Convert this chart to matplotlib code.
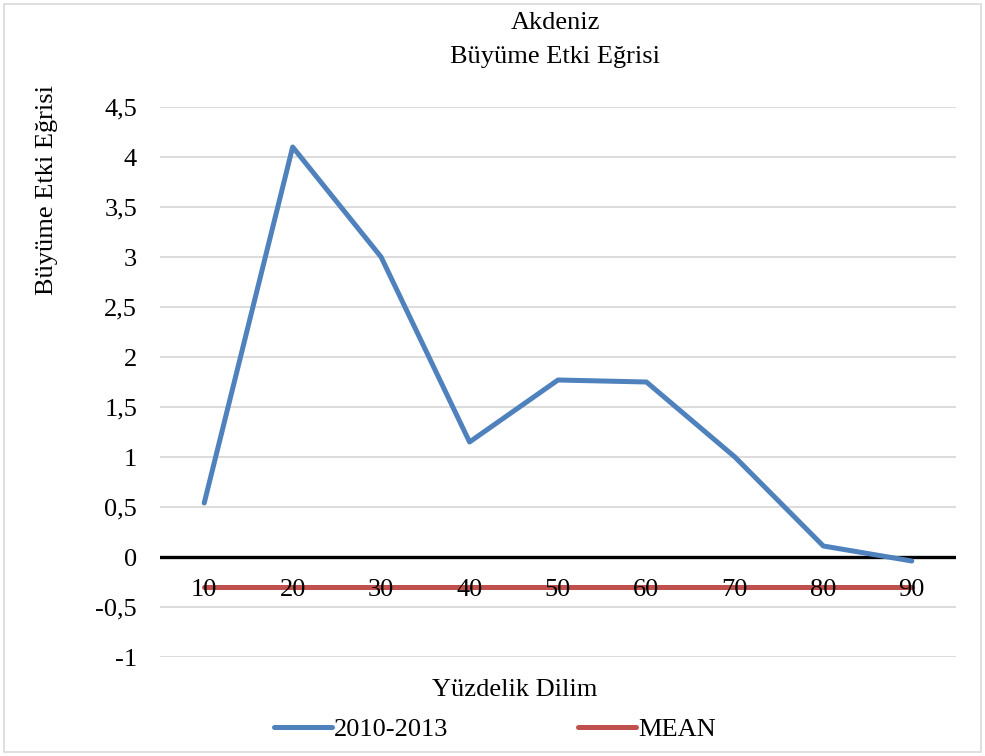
import matplotlib
matplotlib.use("Agg")
import matplotlib.pyplot as plt
from matplotlib.patches import Rectangle
from matplotlib.ticker import FuncFormatter

categories = ["10", "20", "30", "40", "50", "60", "70", "80", "90"]
series_2010_2013 = [0.54, 4.1, 3.0, 1.15, 1.77, 1.75, 1.0, 0.11, -0.04]
mean_values = [-0.3] * 9
y_ticks = [-1, -0.5, 0, 0.5, 1, 1.5, 2, 2.5, 3, 3.5, 4, 4.5]

plt.rcParams['font.family'] = ['Liberation Serif', 'DejaVu Serif']
FS = 19

W, H = 985, 756
fig = plt.figure(figsize=(W / 100, H / 100), dpi=100)
fig.patch.set_facecolor('white')
fig.add_artist(Rectangle((4 / W, 4 / H), 1 - 8 / W, 1 - 8 / H, transform=fig.transFigure,
                         fill=False, edgecolor='#d9d9d9', linewidth=1.2))

ax = fig.add_axes([160 / W, 1 - 657 / H, (956 - 160) / W, (657 - 107) / H])
x = list(range(len(categories)))

ax.plot(x, series_2010_2013, color='#4f81bd', linewidth=3.6, solid_capstyle='round',
        solid_joinstyle='round', label='2010-2013', zorder=3)
ax.plot(x, mean_values, color='#c0504d', linewidth=3.6, solid_capstyle='round',
        label='MEAN', zorder=3)
ax.axhline(0, color='black', linewidth=2.4, zorder=2.8)

ax.set_xlim(-0.5, len(categories) - 0.5)
ax.set_ylim(-1, 4.5)
ax.set_yticks(y_ticks)
ax.yaxis.set_major_formatter(FuncFormatter(lambda v, p: ('%g' % v).replace('.', ',')))
ax.yaxis.grid(True, color='#d9d9d9', linewidth=1.3)
ax.set_axisbelow(True)

ax.set_xticks(x)
ax.set_xticklabels(categories)
ax.spines['bottom'].set_position(('data', 0))
for s in ['top', 'right', 'left', 'bottom']:
    ax.spines[s].set_visible(False)
ax.tick_params(axis='x', length=0, pad=15.5, labelsize=FS)
ax.tick_params(axis='y', length=0, pad=16.5, labelsize=FS)
ax.xaxis.set_zorder(5)

fig.text(555 / W, 1 - 23 / H, 'Akdeniz', ha='center', va='center', fontsize=FS)
fig.text(555 / W, 1 - 57 / H, 'Büyüme Etki Eğrisi', ha='center', va='center', fontsize=FS)
fig.text(47 / W, 1 - 190 / H, 'Büyüme Etki Eğrisi', ha='center', va='center',
         rotation=90, fontsize=FS)
fig.text(515 / W, 1 - 690 / H, 'Yüzdelik Dilim', ha='center', va='center', fontsize=FS)

fig.legend(loc='center', bbox_to_anchor=(495 / W, 1 - 729 / H), ncol=2, frameon=False,
           fontsize=FS, handlelength=2.2, handletextpad=0.1, columnspacing=4.9)

fig.savefig('out.png', dpi=100, facecolor='white')
